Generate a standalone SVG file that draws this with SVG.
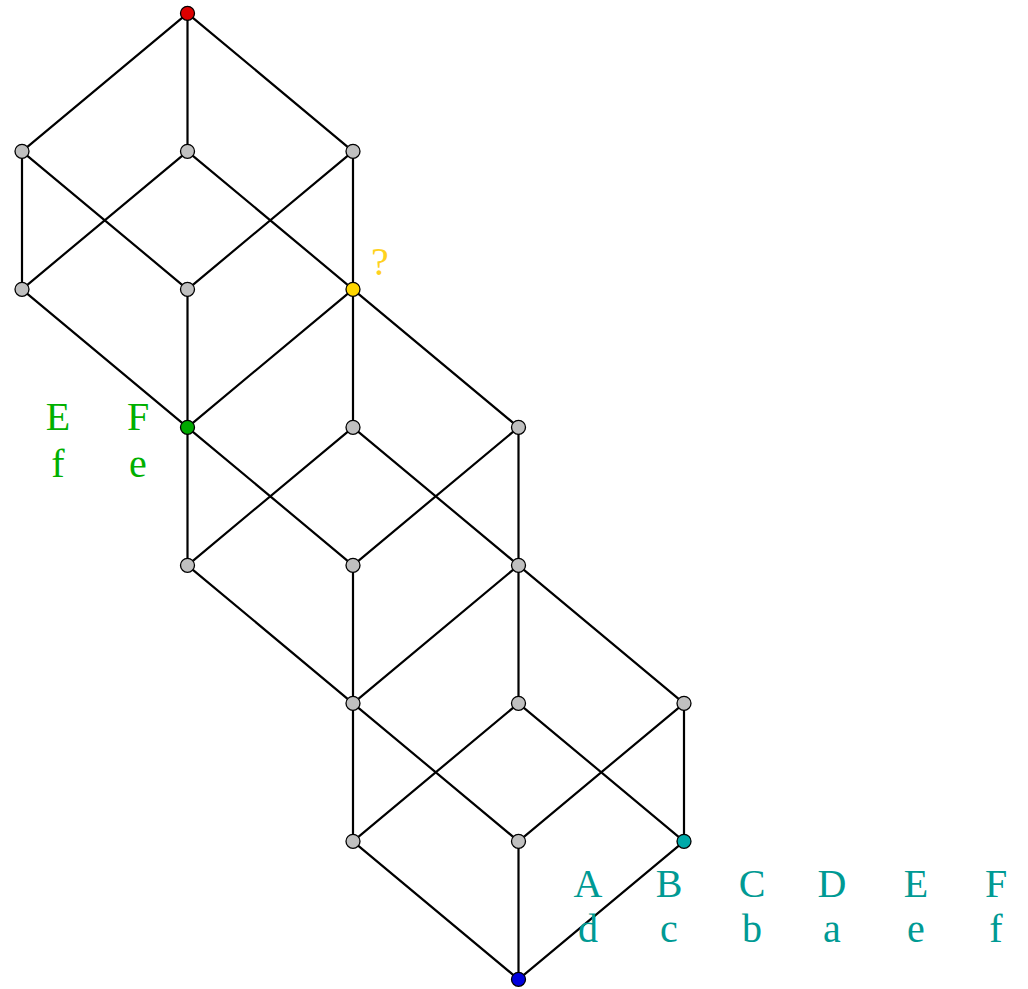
<svg xmlns="http://www.w3.org/2000/svg" width="1028" height="989" viewBox="0 0 1028 989">
<style>
.e{stroke:#000;stroke-width:2.2;fill:none}
.n{stroke:#000;stroke-width:1.3;fill:#c0c0c0}
.t{font-family:"Liberation Serif",serif;font-size:40px;text-anchor:middle}
.g{fill:#00b000}
.c{fill:#009a94}
.y{fill:#ffd21e}
</style>
<rect width="1028" height="989" fill="#fff"/>
<g id="connectors" class="e">
<path d="M187.5 13.3L22 151.3M187.5 13.3L187.5 151.3M187.5 13.3L353 151.3"/>
<path d="M22 151.3L22 289.3M22 151.3L187.5 289.3M187.5 151.3L22 289.3M187.5 151.3L353 289.3M353 151.3L187.5 289.3M353 151.3L353 289.3"/>
<path d="M22 289.3L187.5 427.3M187.5 289.3L187.5 427.3M353 289.3L187.5 427.3"/>
<path d="M353 289.3L353 427.3M353 289.3L518.5 427.3"/>
<path d="M187.5 427.3L187.5 565.3M187.5 427.3L353 565.3M353 427.3L187.5 565.3M353 427.3L518.5 565.3M518.5 427.3L353 565.3M518.5 427.3L518.5 565.3"/>
<path d="M187.5 565.3L353 703.3M353 565.3L353 703.3M518.5 565.3L353 703.3"/>
<path d="M518.5 565.3L518.5 703.3M518.5 565.3L684 703.3"/>
<path d="M353 703.3L353 841.3M353 703.3L518.5 841.3M518.5 703.3L353 841.3M518.5 703.3L684 841.3M684 703.3L518.5 841.3M684 703.3L684 841.3"/>
<path d="M353 841.3L518.5 979.3M518.5 841.3L518.5 979.3M684 841.3L518.5 979.3"/>
</g>
<g id="n_top"><circle class="n" cx="187.5" cy="13.3" r="7" fill="#dd0000" style="fill:#dd0000"/></g>
<g id="n1a"><circle class="n" cx="22" cy="151.3" r="7"/></g>
<g id="n1b"><circle class="n" cx="187.5" cy="151.3" r="7"/></g>
<g id="n1c"><circle class="n" cx="353" cy="151.3" r="7"/></g>
<g id="n2a"><circle class="n" cx="22" cy="289.3" r="7"/></g>
<g id="n2b"><circle class="n" cx="187.5" cy="289.3" r="7"/></g>
<g id="n_yellow"><circle class="n" cx="353" cy="289.3" r="7" style="fill:#ffd700"/><text class="t y" x="380" y="275">?</text></g>
<g id="n_green"><circle class="n" cx="187.5" cy="427.3" r="7" style="fill:#00aa00"/>
<text class="t g" x="58" y="430">E</text><text class="t g" x="138" y="430">F</text>
<text class="t g" x="58" y="477">f</text><text class="t g" x="138" y="477">e</text></g>
<g id="n3b"><circle class="n" cx="353" cy="427.3" r="7"/></g>
<g id="n3c"><circle class="n" cx="518.5" cy="427.3" r="7"/></g>
<g id="n4a"><circle class="n" cx="187.5" cy="565.3" r="7"/></g>
<g id="n4b"><circle class="n" cx="353" cy="565.3" r="7"/></g>
<g id="n4c"><circle class="n" cx="518.5" cy="565.3" r="7"/></g>
<g id="n5a"><circle class="n" cx="353" cy="703.3" r="7"/></g>
<g id="n5b"><circle class="n" cx="518.5" cy="703.3" r="7"/></g>
<g id="n5c"><circle class="n" cx="684" cy="703.3" r="7"/></g>
<g id="n6a"><circle class="n" cx="353" cy="841.3" r="7"/></g>
<g id="n6b"><circle class="n" cx="518.5" cy="841.3" r="7"/></g>
<g id="n_teal"><circle class="n" cx="684" cy="841.3" r="7" style="fill:#00aaaa"/>
<text class="t c" x="588" y="897">A</text><text class="t c" x="669" y="897">B</text><text class="t c" x="752" y="897">C</text><text class="t c" x="832" y="897">D</text><text class="t c" x="916" y="897">E</text><text class="t c" x="996" y="897">F</text>
<text class="t c" x="588" y="942">d</text><text class="t c" x="669" y="942">c</text><text class="t c" x="752" y="942">b</text><text class="t c" x="832" y="942">a</text><text class="t c" x="916" y="942">e</text><text class="t c" x="996" y="942">f</text></g>
<g id="n_blue"><circle class="n" cx="518.5" cy="979.3" r="7" style="fill:#0000dd"/></g>
</svg>
